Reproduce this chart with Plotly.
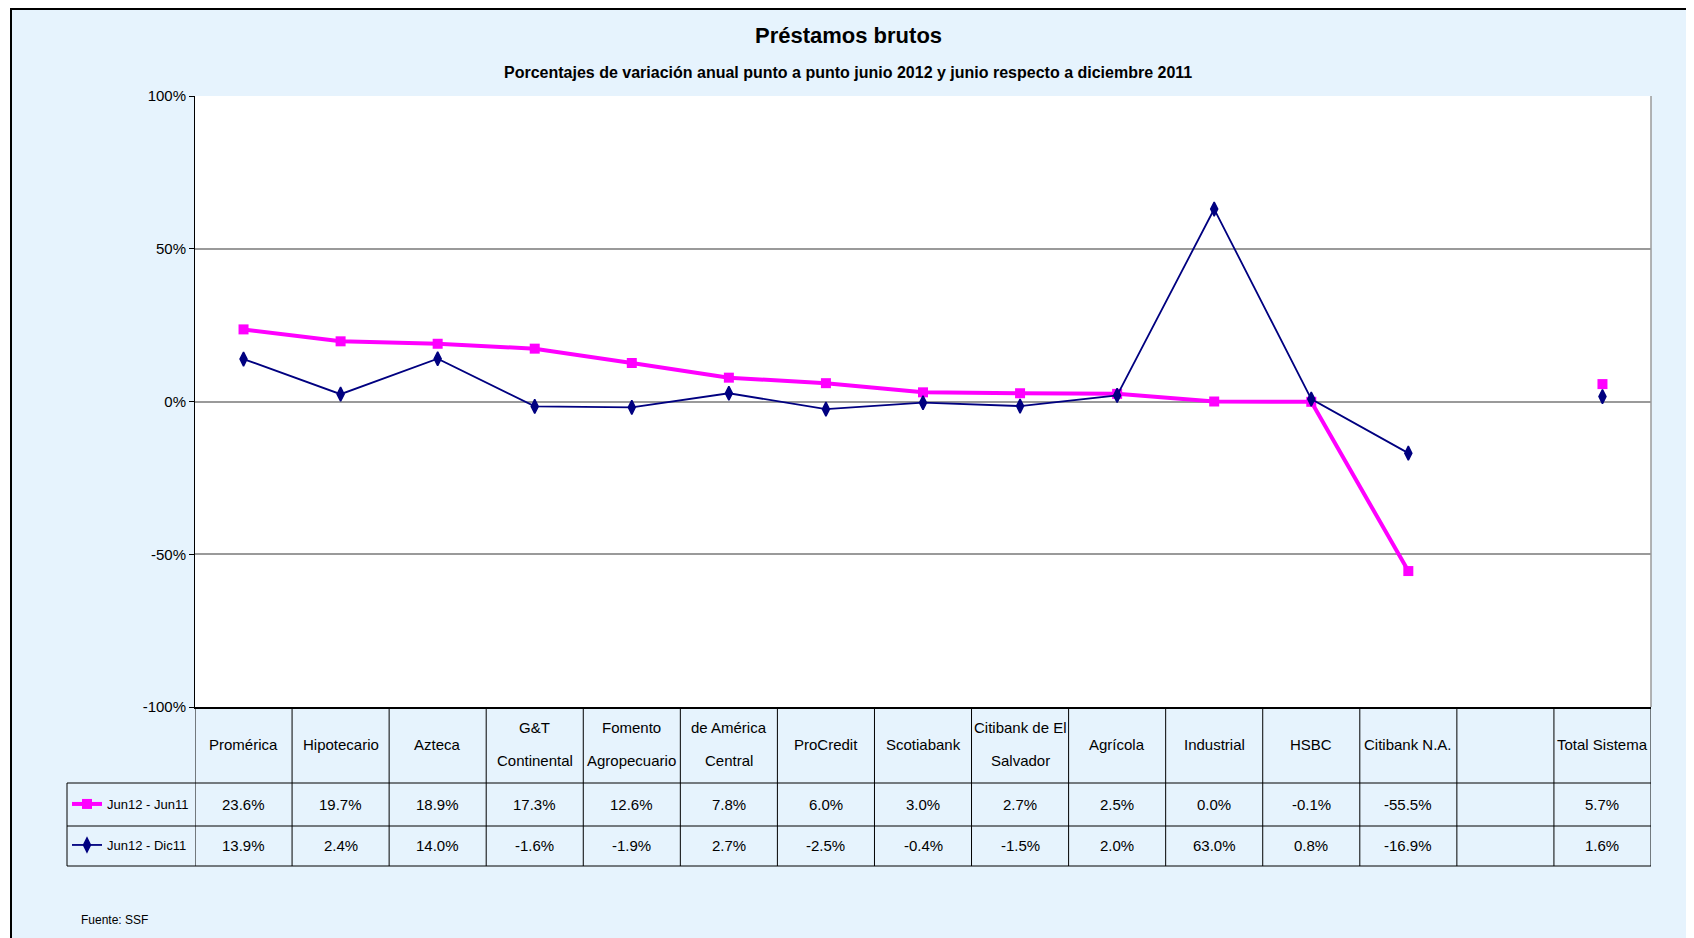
import plotly.graph_objects as go

# datos (porcentajes)
bancos = ["Promérica", "Hipotecario", "Azteca", "G&T<br>Continental", "Fomento<br>Agropecuario",
          "de América<br>Central", "ProCredit", "Scotiabank", "Citibank de El<br>Salvador", "Agrícola",
          "Industrial", "HSBC", "Citibank N.A.", "", "Total Sistema"]
jun12_jun11 = [23.6, 19.7, 18.9, 17.3, 12.6, 7.8, 6.0, 3.0, 2.7, 2.5, 0.0, -0.1, -55.5, None, 5.7]
jun12_dic11 = [13.9, 2.4, 14.0, -1.6, -1.9, 2.7, -2.5, -0.4, -1.5, 2.0, 63.0, 0.8, -16.9, None, 1.6]
y_ticks = [-100, -50, 0, 50, 100]
y_labels = [f"{v}%" for v in y_ticks]

FONT = "Liberation Sans, Arial, sans-serif"
BG = "#e6f3fd"
GRID = "#9a9a9a"

# the page body has an 8px margin, so the figure is drawn 8px smaller and
# every position below is given in screenshot pixels and shifted by OFF
OFF = 8
W, H = 1694 - OFF, 938 - OFF
L, R, T, B = 195, 1651, 96, 707   # plot area in screenshot pixels


def px(x):
    return (x - L) / (R - L)


def py(y):
    return (B - y) / (B - T)


xs = list(range(len(bancos)))

fig = go.Figure()
fig.add_trace(go.Scatter(
    x=xs, y=jun12_jun11, name="Jun12 - Jun11", mode="lines+markers",
    line=dict(color="#ff00ff", width=4),
    marker=dict(symbol="square", size=10, color="#ff00ff"),
    legend="legend"
))
fig.add_trace(go.Scatter(
    x=xs, y=jun12_dic11, name="Jun12 - Dic11", mode="lines+markers",
    line=dict(color="#000080", width=1.8),
    marker=dict(symbol="diamond-tall", size=10, color="#000080",
                line=dict(color="#000080", width=1.5)),
    legend="legend2"
))

shapes = []
# marco exterior y franja blanca a la izquierda
shapes.append(dict(type="rect", xref="paper", yref="paper", x0=px(-20), x1=px(11), y0=py(-20), y1=py(960),
                   fillcolor="white", line=dict(width=0), layer="below"))
shapes.append(dict(type="rect", xref="paper", yref="paper", x0=px(11), x1=px(1720), y0=py(9), y1=py(960),
                   line=dict(color="black", width=2)))
# borde derecho del área de trazado
shapes.append(dict(type="line", xref="paper", yref="paper", x0=1, x1=1, y0=0, y1=1,
                   line=dict(color=GRID, width=1.5)))

# tabla: líneas verticales por categoría
for i in range(len(bancos) + 1):
    shapes.append(dict(type="line", xref="x", yref="paper", x0=i - 0.5, x1=i - 0.5,
                       y0=py(707), y1=py(866), line=dict(color="black", width=1)))
# tabla: líneas horizontales
for yy in [783, 826, 866]:
    shapes.append(dict(type="line", xref="paper", yref="paper", x0=px(67), x1=1,
                       y0=py(yy), y1=py(yy), line=dict(color="black", width=1)))
shapes.append(dict(type="line", xref="paper", yref="paper", x0=px(67), x1=px(67),
                   y0=py(783), y1=py(866), line=dict(color="black", width=1)))

annotations = []
for i, name in enumerate(bancos):
    lines = name.split("<br>")
    ys = [745] if len(lines) == 1 else [728, 760]
    for txt, yy in zip(lines, ys):
        if txt:
            annotations.append(dict(x=i, y=py(yy), xref="x", yref="paper", text=txt, showarrow=False,
                                    xanchor="center", yanchor="middle", font=dict(size=15)))
for serie, yy in [(jun12_jun11, 804), (jun12_dic11, 845)]:
    for i, v in enumerate(serie):
        if v is not None:
            annotations.append(dict(x=i, y=py(yy), xref="x", yref="paper", text=f"{v:.1f}%",
                                    showarrow=False, xanchor="center", yanchor="middle",
                                    font=dict(size=15)))

annotations.append(dict(x=px(848), y=py(35), xref="paper", yref="paper", text="<b>Préstamos brutos</b>",
                        showarrow=False, xanchor="center", yanchor="middle", font=dict(size=22)))
annotations.append(dict(x=px(848), y=py(73), xref="paper", yref="paper",
                        text="<b>Porcentajes de variación anual punto a punto junio 2012 y junio respecto a diciembre 2011</b>",
                        showarrow=False, xanchor="center", yanchor="middle", font=dict(size=16)))
annotations.append(dict(x=px(79), y=py(920), xref="paper", yref="paper", text="Fuente: SSF",
                        showarrow=False, xanchor="left", yanchor="middle", font=dict(size=12)))

fig.update_layout(
    width=W, height=H,
    margin=dict(l=L - OFF, r=W + OFF - R, t=T - OFF, b=H + OFF - B),
    paper_bgcolor=BG,
    plot_bgcolor="white",
    showlegend=True,
    font=dict(family=FONT, size=15, color="black"),
    xaxis=dict(range=[-0.5, len(bancos) - 0.5], showticklabels=False, showgrid=False, zeroline=False,
               showline=True, linecolor="black", linewidth=1.5, ticks=""),
    yaxis=dict(range=[-100, 100], tickvals=y_ticks, ticktext=y_labels, showgrid=True, gridcolor=GRID,
               gridwidth=1.5, zeroline=True, zerolinecolor=GRID, zerolinewidth=1.5,
               showline=True, linecolor="black", linewidth=1, ticks="outside", ticklen=5,
               tickcolor="black", tickfont=dict(size=15)),
    legend=dict(x=px(67), y=py(804), xanchor="left", yanchor="middle", bgcolor="rgba(0,0,0,0)",
                font=dict(size=13), borderwidth=0),
    legend2=dict(x=px(67), y=py(845), xanchor="left", yanchor="middle", bgcolor="rgba(0,0,0,0)",
                 font=dict(size=13), borderwidth=0),
    shapes=shapes,
    annotations=annotations,
)

fig.write_html("out.html")
